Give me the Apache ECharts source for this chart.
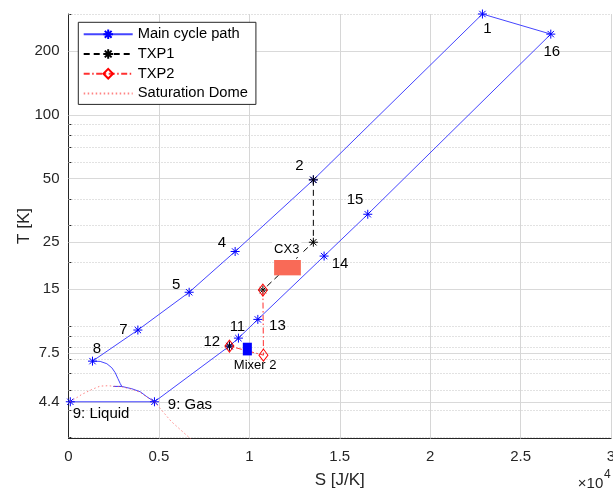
<!DOCTYPE html>
<html><head><meta charset="utf-8">
<script src="https://cdn.jsdelivr.net/npm/echarts@6/dist/echarts.min.js"></script>
<style>html,body{margin:0;padding:0;background:#fff}#c{width:613px;height:493px}</style>
</head><body><div id="c"></div>
<script>
// ---------------- data ----------------
const upperNames = ['1', '2', '4', '5', '7', '8'];
const upperS = [22890, 13540, 9215, 6672, 3836, 1327];
const upperT = [300, 49.3, 22.6, 14.5, 9.61, 6.85];

const throttleS = [1752, 2121, 2397, 2582, 2729, 2858, 2950, 2489, 2950, 3042, 3503, 3963, 4332];
const throttleT = [6.83, 6.66, 6.37, 6.04, 5.67, 5.37, 5.2, 5.2, 5.2, 5.14, 5.07, 4.91, 4.65];

const phaseNames = ['9: Liquid', '9: Gas'];
const phaseS = [100, 4754];
const phaseT = [4.4, 4.4];

const lowerNames = ['12', '11', '13', '14', '15', '16'];
const lowerS = [8900, 9397, 10470, 14135, 16550, 26670];
const lowerT = [8.07, 8.80, 10.79, 21.5, 33.9, 241];

const txp1S = [13540, 13540, 10750];
const txp1T = [49.3, 25.0, 14.85];
const txp1EndS = [8900];
const txp1EndT = [8.07];

const txp2S = [10750, 10780, 8900];
const txp2T = [14.85, 7.31, 8.07];

const domeS = [-400, 100, 740, 1290, 1750, 2200, 2500, 2950, 3500, 3960, 4330, 4754, 5670, 6730, 7200];
const domeT = [4.0, 4.4, 4.77, 5.03, 5.22, 5.24, 5.21, 5.18, 5.04, 4.88, 4.63, 4.4, 3.56, 2.95, 2.75];

const cx3Rect = [11370, 17.43, 12850, 20.6];
const mixerRect = [9640, 7.29, 10140, 8.37];

const yTickValues = [4.4, 7.5, 15, 25, 50, 100, 200];
const yMinorValues = [3, 4, 5, 6, 7, 8, 9, 10, 20, 30, 40, 60, 70, 80, 90, 300];
const xGridValues = [5000, 10000, 15000, 20000, 25000, 30000];

// ---------------- styles ----------------
const FONT = '"Liberation Sans", Arial, Helvetica, sans-serif';
const AX = '#262626';
const starPath = 'path://M0,-10L0,10M-10,0L10,0M-7.07,-7.07L7.07,7.07M-7.07,7.07L7.07,-7.07';
const labelOffsets = {
  '1': [5, 15], '16': [1, 18], '2': [-14, -14], '15': [-12.7, -14.3], '4': [-13.3, -9],
  '14': [16, 7.6], '5': [-13, -7], '13': [19.6, 6.7], '11': [-1, -11.4], '12': [-17.6, -4],
  '7': [-14.4, 0], '8': [4.4, -12.4], '9: Gas': [13.4, 2.7], '9: Liquid': [2.4, 12]
};

function pt(s, t, name) {
  return {
    value: [s, t],
    label: {
      show: true, formatter: name, position: 'inside',
      offset: labelOffsets[name],
      align: name.startsWith('9') ? 'left' : 'center',
      verticalAlign: 'middle',
      color: '#000', fontSize: 15, fontFamily: FONT
    }
  };
}
function bare(s, t) { return { value: [s, t], symbol: 'none' }; }

const mainData = [];
phaseNames.forEach((n, i) => mainData.push(pt(phaseS[i], phaseT[i], n)));
lowerNames.forEach((n, i) => mainData.push(pt(lowerS[i], lowerT[i], n)));
upperNames.forEach((n, i) => mainData.push(pt(upperS[i], upperT[i], n)));
throttleS.forEach((s, i) => mainData.push(bare(s, throttleT[i])));
mainData.push(bare(phaseS[1], phaseT[1]));

const txp1Data = txp1S.map((s, i) => [s, txp1T[i]]);
txp1Data[1] = {
  value: txp1Data[1],
  label: { show: true, formatter: 'CX3', position: 'inside', offset: [-26.6, 7.4],
    backgroundColor: '#fff', padding: [1, 2], color: '#000', fontSize: 13, fontFamily: FONT }
};
const txp1EndData = txp1EndS.map((s, i) => [s, txp1EndT[i]]);
const txp2Data = txp2S.map((s, i) => [s, txp2T[i]]);
txp2Data[1] = {
  value: txp2Data[1],
  label: { show: true, formatter: 'Mixer 2', position: 'inside', offset: [-8.3, 10.3],
    color: '#000', fontSize: 13, fontFamily: FONT }
};
const domeData = domeS.map((s, i) => [s, domeT[i]]);

const gridLines = yTickValues.map(v => ({ yAxis: v, lineStyle: { color: '#D9D9D9', type: 'solid', width: 1 } }))
  .concat(yMinorValues.map(v => ({ yAxis: v, lineStyle: { color: '#C4C4C4', type: [1, 2], width: 1 } })))
  .concat(xGridValues.map(v => ({ xAxis: v, lineStyle: { color: '#D6D6D6', type: 'solid', width: 1 } })));

const chart = echarts.init(document.getElementById('c'), null, { renderer: 'canvas' });
chart.setOption({
  animation: false,
  backgroundColor: '#fff',
  grid: { left: 68.5, right: 2, top: 14, bottom: 54.5, containLabel: false, outerBoundsMode: 'none' },
  xAxis: {
    type: 'value', min: 0, max: 30000, interval: 5000,
    axisLine: { onZero: false, lineStyle: { color: AX, width: 1 } },
    axisTick: { inside: true, length: 5, lineStyle: { color: AX } },
    axisLabel: { formatter: v => String(v / 1e4), color: AX, fontSize: 15, margin: 11, fontFamily: FONT,
      showMaxLabel: true, showMinLabel: true, hideOverlap: false },
    splitLine: { show: false }
  },
  yAxis: [{
    type: 'log', logBase: 10, min: 2.95, max: 300,
    axisLine: { show: true, onZero: false, lineStyle: { color: AX, width: 1 } },
    axisTick: { show: true, inside: true, length: 5, customValues: yTickValues, lineStyle: { color: AX } },
    axisLabel: { customValues: yTickValues, formatter: v => String(parseFloat((+v).toPrecision(4))),
      color: AX, fontSize: 15, margin: 9, fontFamily: FONT },
    splitLine: { show: false }
  }, {
    type: 'log', logBase: 10, min: 2.95, max: 300, position: 'left',
    axisLine: { show: false, onZero: false },
    axisTick: { show: true, inside: true, length: 3, customValues: yMinorValues, lineStyle: { color: AX } },
    axisLabel: { show: false },
    splitLine: { show: false }
  }],
  legend: {
    data: ['Main cycle path', 'TXP1', 'TXP2', 'Saturation Dome'],
    orient: 'vertical', left: 78.3, top: 22.3, z: 10,
    itemWidth: 49, itemHeight: 12, itemGap: 4.7,
    padding: [4.5, 8, 3.5, 4.4],
    borderColor: AX, borderWidth: 1, backgroundColor: '#fff',
    textStyle: { fontSize: 14.7, color: '#000', fontFamily: FONT },
    selectedMode: false
  },
  graphic: [
    { type: 'text', x: 339.7, y: 480, style: { text: 'S [J/K]', font: '17px ' + FONT, fill: AX, align: 'center', verticalAlign: 'middle' } },
    { type: 'text', x: 24, y: 226, rotation: Math.PI / 2, style: { text: 'T [K]', font: '17px ' + FONT, fill: AX, align: 'center', verticalAlign: 'middle' } },
    { type: 'text', x: 603.3, y: 484.3, style: { text: '\u00d710', font: '15px ' + FONT, fill: AX, align: 'right', verticalAlign: 'middle' } },
    { type: 'text', x: 604, y: 475, style: { text: '4', font: '12px ' + FONT, fill: AX, align: 'left', verticalAlign: 'middle' } }
  ],
  series: [
    {
      name: 'grid', type: 'line', data: [], z: 1, silent: true,
      markLine: { z: 1, silent: true, symbol: ['none', 'none'], label: { show: false }, animation: false, data: gridLines }
    },
    {
      name: 'Main cycle path', type: 'line', data: mainData, z: 3,
      symbol: starPath, symbolSize: 9, symbolKeepAspect: true,
      itemStyle: { color: '#0000ff', borderColor: '#0000ff', borderWidth: 1 },
      lineStyle: { color: '#4545ff', width: 1 },
      emphasis: { disabled: true }
    },
    {
      name: 'TXP1', type: 'line', data: txp1Data, z: 4,
      symbol: starPath, symbolSize: 9, symbolKeepAspect: true,
      itemStyle: { color: '#000', borderColor: '#000', borderWidth: 1 },
      lineStyle: { color: '#000', width: 1, type: [6, 4] },
      emphasis: { disabled: true }
    },
    {
      name: 'TXP1', type: 'line', data: txp1EndData, z: 4,
      symbol: starPath, symbolSize: 9, symbolKeepAspect: true,
      itemStyle: { color: '#000', borderColor: '#000', borderWidth: 1 },
      lineStyle: { color: '#000', width: 1, type: [6, 4] },
      emphasis: { disabled: true }
    },
    {
      name: 'TXP2', type: 'line', data: txp2Data, z: 5,
      symbol: 'diamond', symbolSize: [9, 12],
      itemStyle: { color: 'rgba(255,255,255,0)', borderColor: '#ff0000', borderWidth: 1 },
      lineStyle: { color: '#ff3030', width: 1, type: [6, 2.5, 1.5, 2.5] },
      emphasis: { disabled: true }
    },
    {
      name: 'Saturation Dome', type: 'line', data: domeData, z: 6,
      symbol: 'circle', showSymbol: false, clip: true,
      itemStyle: { color: 'rgba(0,0,0,0)', borderWidth: 0 },
      lineStyle: { color: '#ff5a5a', width: 1, type: [1.5, 2.5], opacity: 0.75 },
      emphasis: { disabled: true }
    },
    {
      name: 'blocks', type: 'custom', z: 7, silent: true,
      data: [
        { value: cx3Rect, itemStyle: { color: '#F96A57' } },
        { value: mixerRect, itemStyle: { color: '#0000ff' } }
      ],
      renderItem: function (params, api) {
        const p0 = api.coord([api.value(0), api.value(3)]);
        const p1 = api.coord([api.value(2), api.value(1)]);
        return { type: 'rect', shape: { x: p0[0], y: p0[1], width: p1[0] - p0[0], height: p1[1] - p0[1] },
          style: { fill: api.visual('color') } };
      }
    }
  ]
});
</script></body></html>
